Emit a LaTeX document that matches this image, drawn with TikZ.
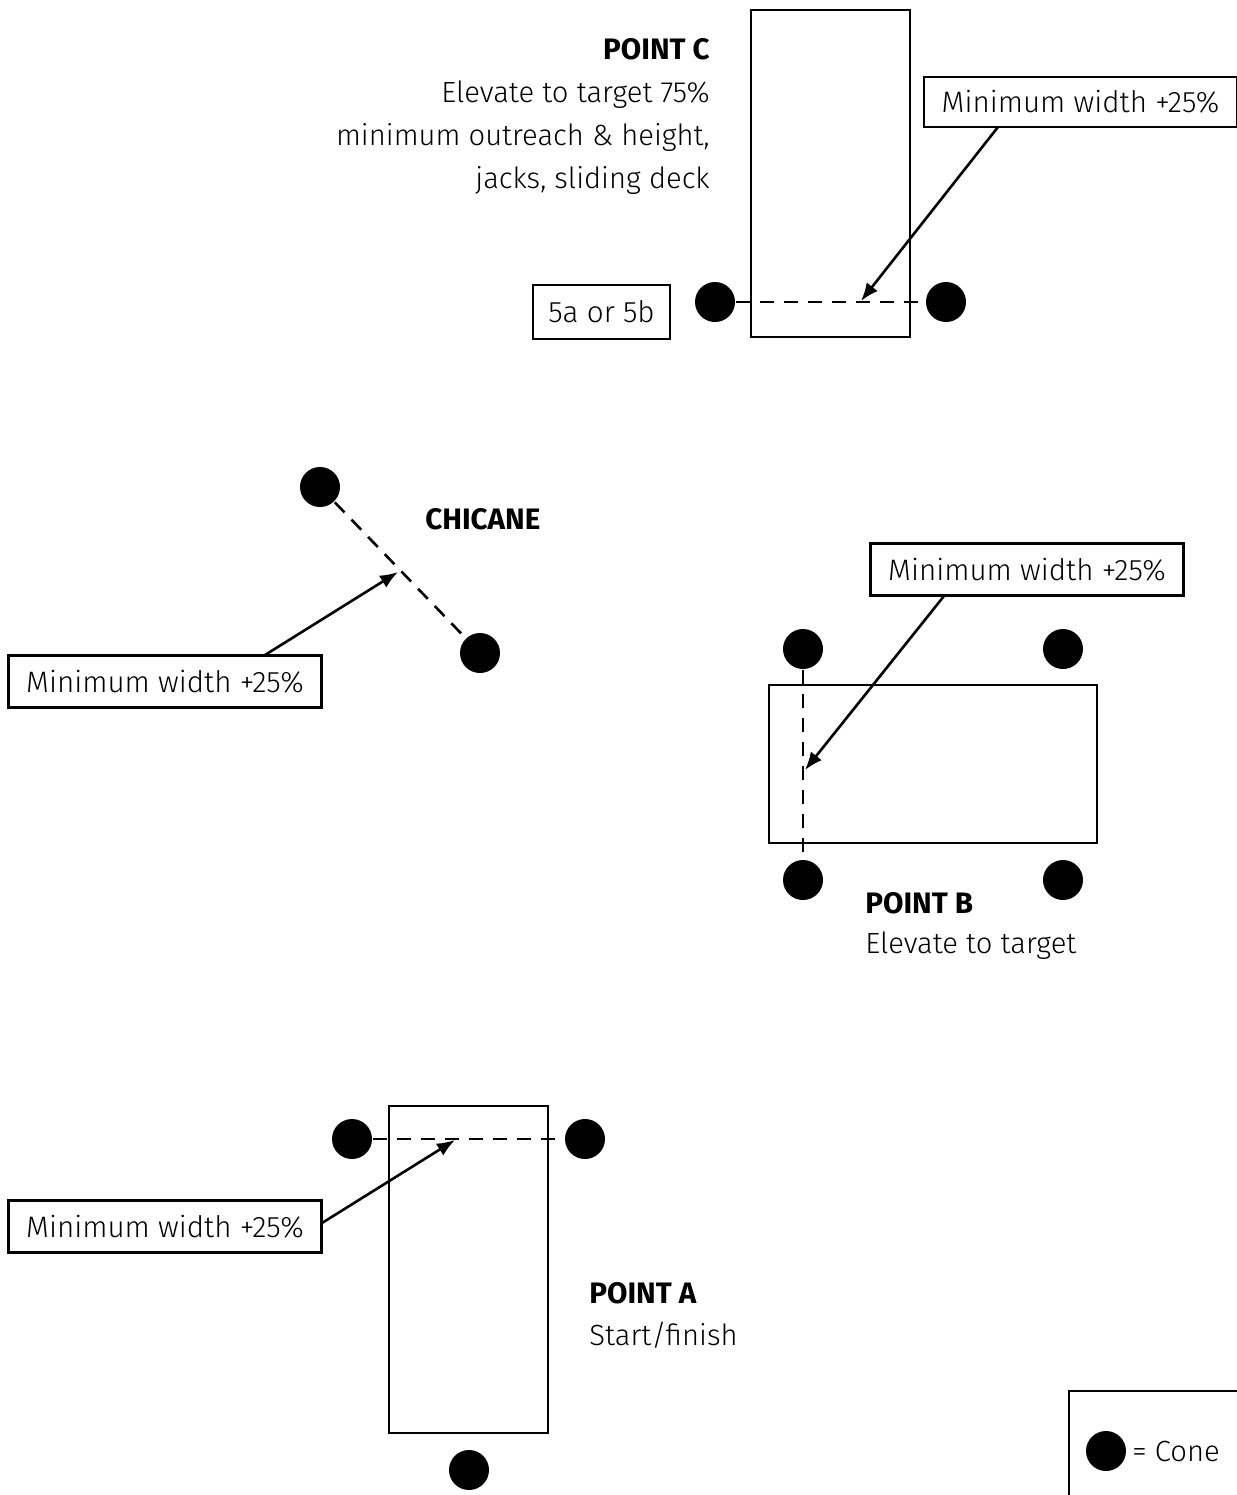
\documentclass[tikz,border=0pt]{standalone}
\usepackage{fontspec}
\setmainfont{Fira Sans}[UprightFont=* Light, BoldFont=* Bold]
\usetikzlibrary{arrows.meta}
\begin{document}
\begin{tikzpicture}[x=0.5pt,y=-0.5pt,
  line width=1.3pt,
  cone/.style={circle,fill=black,draw=none,minimum size=20pt,inner sep=0pt},
  labelbox/.style={draw,inner sep=0pt,minimum width=156.5pt,minimum height=26pt,font=\fontsize{14.8}{16}\selectfont},
  vehicle/.style={draw,inner sep=0pt},
  widthline/.style={dashed,dash pattern=on 7pt off 5pt},
  pointer/.style={-{Latex[length=9pt,width=7pt]}},
  head/.style={font=\bfseries\fontsize{14.8}{16}\selectfont,inner sep=0pt},
  body/.style={font=\fontsize{14.6}{21.5}\selectfont,inner sep=0pt}]
\useasboundingbox (0,0) rectangle (1237,1495);

% ---------- POINT C ----------
\node[vehicle,minimum width=79.5pt,minimum height=163.5pt] (vehC) at (830.5,173.5) {};
\node[cone] (c1) at (715,302) {};
\node[cone] (c2) at (946,302) {};
\draw[widthline] (c1) -- (c2);
\node[labelbox,minimum width=156.5pt,minimum height=25pt] (boxC) at (1080.5,102) {Minimum width +25\%};
\coordinate (tipC) at (861,301);
\coordinate (startC) at (998,127);
\draw[pointer] (startC) -- (tipC);
\node[labelbox,minimum width=68.5pt,minimum height=27pt] (box5) at (601.5,312) {5a or 5b};
\node[head,anchor=base east] (titleC) at (711,59) {POINT C};
\node[body,anchor=north east,align=right] (descC) at (711,79)
  {Elevate to target 75\%\\minimum outreach \& height,\\jacks, sliding deck};

% ---------- CHICANE ----------
\node[cone] (ch1) at (320,487) {};
\node[cone] (ch2) at (480,653) {};
\draw[widthline] (ch1) -- (ch2);
\node[head,anchor=west] (titleCh) at (424,519) {CHICANE};
\node[labelbox] (boxCh) at (165,681.5) {Minimum width +25\%};
\coordinate (startCh) at (265,655);
\coordinate (tipCh) at (398,572);
\draw[pointer] (startCh) -- (tipCh);

% ---------- POINT B ----------
\node[vehicle,minimum width=164pt,minimum height=79pt] (vehB) at (933,764) {};
\node[cone] (b1) at (803,649) {};
\node[cone] (b2) at (1063,649) {};
\node[cone] (b3) at (803,880) {};
\node[cone] (b4) at (1063,880) {};
\draw[widthline] (b1) -- (b3);
\node[labelbox] (boxB) at (1027,569.5) {Minimum width +25\%};
\coordinate (startB) at (944,596);
\coordinate (tipB) at (805,770);
\draw[pointer] (startB) -- (tipB);
\node[head,anchor=west] (titleB) at (864,903) {POINT B};
\node[body,anchor=west] (descB) at (864,946) {Elevate to target};

% ---------- POINT A ----------
\node[vehicle,minimum width=79.5pt,minimum height=163.5pt] (vehA) at (468.5,1269.5) {};
\node[cone] (a1) at (352,1139) {};
\node[cone] (a2) at (585,1139) {};
\node[cone] (a3) at (469,1470) {};
\draw[widthline] (a1) -- (a2);
\node[labelbox] (boxA) at (165,1226.5) {Minimum width +25\%};
\coordinate (startA) at (322,1223);
\coordinate (tipA) at (455,1140);
\draw[pointer] (startA) -- (tipA);
\node[head,anchor=west] (titleA) at (588,1293) {POINT A};
\node[body,anchor=west] (descA) at (588,1335) {Start/finish};

% ---------- LEGEND ----------
\draw (1069,1495) -- (1069,1391) -- (1237,1391);
\node[cone] (legcone) at (1106,1451) {};
\node[body,anchor=west] (legtext) at (1131,1451) {= Cone};
\end{tikzpicture}
\end{document}
